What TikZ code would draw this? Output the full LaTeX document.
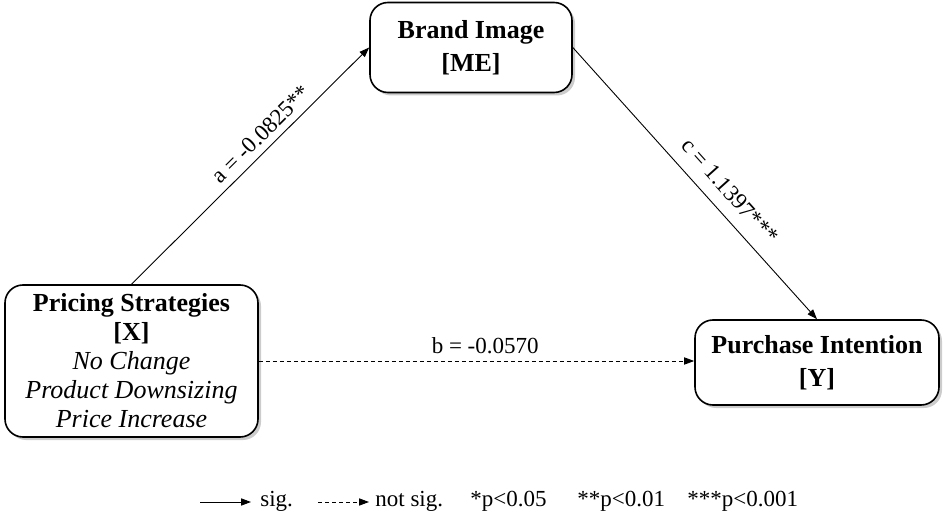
\documentclass[tikz,border=0pt]{standalone}
\usepackage{fontspec}
\setmainfont{Liberation Serif}
\usetikzlibrary{arrows.meta,shadows}

\tikzset{
  varbox/.style={draw,line width=.8pt,rounded corners=9pt,fill=white,align=center,
    font=\fontsize{13}{16.5}\selectfont,
    drop shadow={opacity=.4,shadow xshift=1.5pt,shadow yshift=-1.5pt}},
  effect/.style={-{Triangle[length=5pt,width=3.6pt]},line width=.45pt},
  notsig/.style={dash pattern=on 2pt off 1.5pt},
  coef/.style={font=\fontsize{11.5}{13}\selectfont}
}

\begin{document}
\begin{tikzpicture}[x=.5pt,y=.5pt]
\useasboundingbox (0,0) rectangle (943,515);

% variables
\node[varbox,minimum width=126.5pt,minimum height=76pt,font=\fontsize{13}{14.5}\selectfont] (ps) at (131.5,154)
  {\textbf{Pricing Strategies}\\\textbf{[X]}\\\textit{No Change}\\\textit{Product Downsizing}\\\textit{Price Increase}};
\node[varbox,minimum width=101pt,minimum height=45pt] (bi) at (471,467.5)
  {\textbf{Brand Image}\\\textbf{[ME]}};
\node[varbox,minimum width=122pt,minimum height=42.5pt] (pi) at (817,152.5)
  {\textbf{Purchase Intention}\\\textbf{[Y]}};

% paths
\draw[effect] (ps.north) -- node[coef,sloped,above,pos=.59] {a = -0.0825**} (bi.west);
\draw[effect] (bi.east) -- node[coef,sloped,above=3pt,pos=.58] {c = 1.1397***} (pi.north);
\draw[effect,notsig] (ps.east) -- node[coef,above,pos=.52] {b = -0.0570} (ps.east -| pi.west);

% legend
\coordinate (s1) at (200,13);
\coordinate (s2) at (251,13);
\coordinate (n1) at (318,13);
\coordinate (n2) at (369,13);
\draw[effect] (s1) -- (s2);
\node[coef,anchor=base west,inner sep=0pt] at (260,9) {sig.};
\draw[effect,notsig] (n1) -- (n2);
\node[coef,anchor=base west,inner sep=0pt] at (375,9) {not sig.};
\node[coef,anchor=base west,inner sep=0pt] at (470,9) {*p<0.05};
\node[coef,anchor=base west,inner sep=0pt] at (577,9) {**p<0.01};
\node[coef,anchor=base west,inner sep=0pt] at (687,9) {***p<0.001};
\end{tikzpicture}
\end{document}
